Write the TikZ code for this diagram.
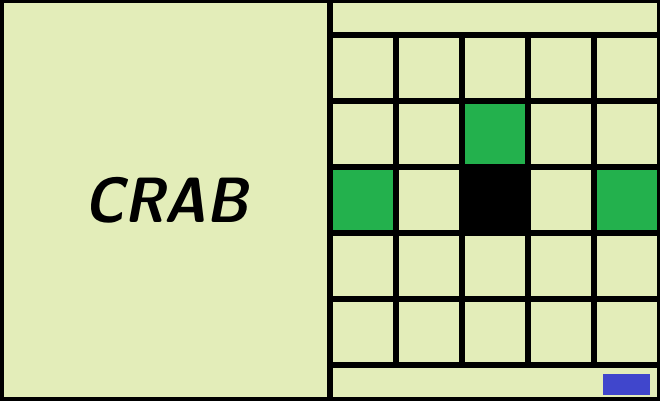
\documentclass[tikz,border=0pt]{standalone}
\definecolor{board}{RGB}{227,237,185}
\definecolor{markgreen}{RGB}{35,177,77}
\definecolor{token}{RGB}{64,70,204}
\usepackage{tikz}
\usetikzlibrary{positioning}

\begin{document}
\begin{tikzpicture}[x=1pt,y=1pt,grid line/.style={line width=5.5pt,black}]
        \fill[board] (0,0) rectangle (660,400);
        \useasboundingbox (0,0) rectangle (660,400);
        % marked squares and the centre piece
        \foreach \cx/\cy in {462/233,330/167,594/167}
          \fill[markgreen] (\cx,\cy) rectangle ++(66,66);
        \fill[black] (462,167) rectangle ++(66,66);
        \node[fill=token,minimum width=47pt,minimum height=21pt,inner sep=0pt,anchor=south west] (token) at (603,5) {};
        % board lines
        \foreach \y in {35,101,167,233,299,365}
          \draw[grid line] (330,\y) -- (660,\y);
        \foreach \x in {396,462,528,594}
          \draw[grid line] (\x,35) -- (\x,365);
        \draw[grid line] (330,0) -- (330,400);
        \draw[line width=7pt] (0,0) rectangle (660,400);
        \node[font=\fontsize{64}{70}\selectfont\sffamily\bfseries\itshape,xscale=0.89] (crab) at (166,200) {CRAB};
      \end{tikzpicture}
\end{document}
